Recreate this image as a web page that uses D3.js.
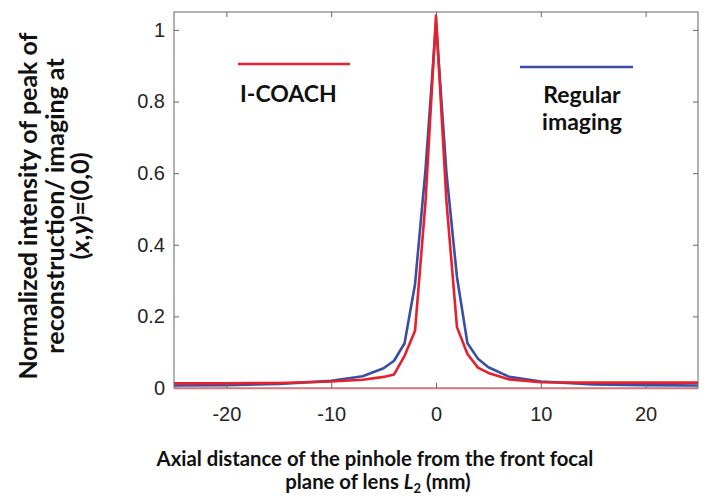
<!DOCTYPE html>
<html>
<head>
<meta charset="utf-8">
<script src="https://cdn.jsdelivr.net/npm/d3@7"></script>
<style>
  body { margin: 0; background: #fff; }
  .tick text { font-family: "Liberation Sans", Arial, sans-serif; font-size: 20px; fill: #262626; }
  .title { font-family: Lato, "Open Sans", sans-serif; font-weight: bold; fill: #111; }
</style>
</head>
<body>
<div id="vis"></div>
<script>
// Axial response: I-COACH vs regular imaging

const FRAME_HEIGHT = 498;
const FRAME_WIDTH = 708;
const MARGINS = {left: 174, right: 10, top: 12, bottom: 110};

const VIS_HEIGHT = FRAME_HEIGHT - MARGINS.top - MARGINS.bottom;
const VIS_WIDTH = FRAME_WIDTH - MARGINS.left - MARGINS.right;

// data
const DISTANCE = [-25, -20, -15, -10, -7, -5, -4, -3, -2, -1, 0, 1, 2, 3, 4, 5, 7, 10, 15, 20, 25];
const ICOACH = [0.013, 0.013, 0.014, 0.018, 0.023, 0.031, 0.038, 0.09, 0.16, 0.52, 1.04,
                0.52, 0.17, 0.095, 0.057, 0.042, 0.024, 0.016, 0.015, 0.015, 0.015];
const REGULAR = [0.007, 0.008, 0.011, 0.02, 0.033, 0.055, 0.076, 0.125, 0.29, 0.61, 1.02,
                 0.60, 0.31, 0.125, 0.082, 0.058, 0.031, 0.018, 0.01, 0.008, 0.007];

const X_TICKS = [-20, -10, 0, 10, 20];
const Y_TICKS = [0, 0.2, 0.4, 0.6, 0.8, 1];

const SERIES = [
  {name: "Regular imaging", values: REGULAR, color: "#3a4ea2"},
  {name: "I-COACH", values: ICOACH, color: "#e6202c"}
];

const FRAME1 = d3.select("#vis").append("svg")
    .attr("height", FRAME_HEIGHT)
    .attr("width", FRAME_WIDTH);

const xSCALE = d3.scaleLinear().domain([-25, 25]).range([0, VIS_WIDTH]);
const ySCALE = d3.scaleLinear().domain([0, 1.05]).range([VIS_HEIGHT, 0]);

const PLOT = FRAME1.append("g")
    .attr("transform", "translate(" + MARGINS.left + "," + MARGINS.top + ")");

// lines
const line = d3.line()
    .x((d, i) => xSCALE(DISTANCE[i]))
    .y((d) => ySCALE(d));

SERIES.forEach((s) => {
  PLOT.append("path")
      .datum(s.values)
      .attr("d", line)
      .style("fill", "none")
      .style("stroke", s.color)
      .style("stroke-width", 2.6)
      .style("stroke-linejoin", "round");
});

// axes, MATLAB style box with inward ticks
const TICK_COLOR = "#666";
const plain = (d) => String(d);

PLOT.append("g")
    .attr("transform", "translate(0," + VIS_HEIGHT + ")")
    .call(d3.axisBottom(xSCALE).tickValues(X_TICKS).tickFormat(plain).tickSizeInner(-5).tickSizeOuter(0).tickPadding(19));

PLOT.append("g")
    .call(d3.axisLeft(ySCALE).tickValues(Y_TICKS).tickFormat(plain).tickSizeInner(-5).tickSizeOuter(0).tickPadding(9));

PLOT.append("g")
    .call(d3.axisTop(xSCALE).tickValues(X_TICKS).tickFormat("").tickSizeInner(-5).tickSizeOuter(0));

PLOT.append("g")
    .attr("transform", "translate(" + VIS_WIDTH + ",0)")
    .call(d3.axisRight(ySCALE).tickValues(Y_TICKS).tickFormat("").tickSizeInner(-5).tickSizeOuter(0));

PLOT.selectAll(".domain").remove();
PLOT.selectAll(".tick line").style("stroke", TICK_COLOR);

PLOT.append("rect")
    .attr("x", 0).attr("y", 0)
    .attr("width", VIS_WIDTH).attr("height", VIS_HEIGHT)
    .style("fill", "none")
    .style("stroke", TICK_COLOR)
    .style("stroke-width", 1);

// reddish zero line over the frame bottom
PLOT.append("line")
    .attr("x1", 0).attr("x2", VIS_WIDTH)
    .attr("y1", ySCALE(0) + 0.5).attr("y2", ySCALE(0) + 0.5)
    .style("stroke", "#ee6670")
    .style("stroke-width", 1.5)
    .style("opacity", 0.85);

// legend
FRAME1.append("line")
    .attr("x1", 238).attr("x2", 350).attr("y1", 64).attr("y2", 64)
    .style("stroke", SERIES[1].color).style("stroke-width", 2.6);
FRAME1.append("text").attr("class", "title")
    .attr("x", 240).attr("y", 102)
    .style("font-size", "23px")
    .text("I-COACH");

FRAME1.append("line")
    .attr("x1", 520).attr("x2", 633).attr("y1", 67).attr("y2", 67)
    .style("stroke", SERIES[0].color).style("stroke-width", 2.6);
const reg = FRAME1.append("text").attr("class", "title")
    .attr("text-anchor", "middle")
    .style("font-size", "23px");
reg.append("tspan").attr("x", 582).attr("y", 103).text("Regular");
reg.append("tspan").attr("x", 582).attr("y", 130).text("imaging");

// x title
const xt = FRAME1.append("text").attr("class", "title")
    .attr("text-anchor", "middle")
    .style("font-size", "20.3px");
xt.append("tspan").attr("x", 375).attr("y", 466)
    .text("Axial distance of the pinhole from the front focal");
const xt2 = xt.append("tspan").attr("x", 378).attr("y", 489);
xt2.append("tspan").text("plane of lens ");
xt2.append("tspan").style("font-style", "italic").text("L");
xt2.append("tspan").attr("dy", 4).style("font-size", "13px").text("2");
xt2.append("tspan").attr("dy", -4).text(" (mm)");

// y title
const yt = FRAME1.append("text").attr("class", "title")
    .attr("text-anchor", "middle")
    .attr("transform", "translate(0,206) rotate(-90)")
    .style("font-size", "25px");
yt.append("tspan").attr("x", 0).attr("y", 37).text("Normalized intensity of peak of");
yt.append("tspan").attr("x", 0).attr("y", 64).text("reconstruction/ imaging at");
const yt3 = yt.append("tspan").attr("x", 0).attr("y", 89);
yt3.append("tspan").text("(");
yt3.append("tspan").style("font-style", "italic").text("x");
yt3.append("tspan").text(",");
yt3.append("tspan").style("font-style", "italic").text("y");
yt3.append("tspan").text(")=(0,0)");
</script>
</body>
</html>
